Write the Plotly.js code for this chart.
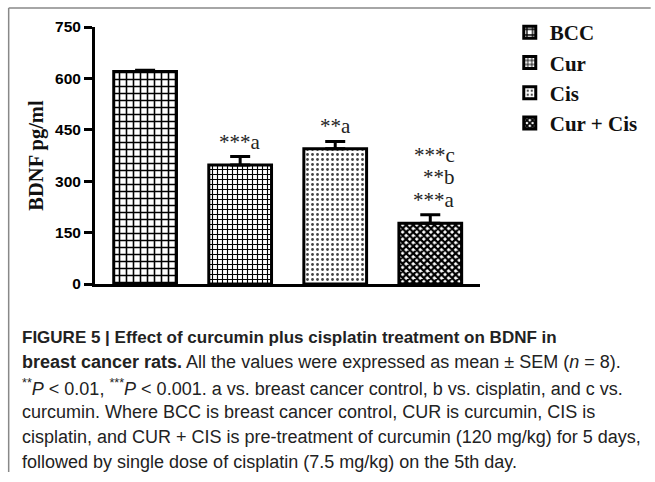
<!DOCTYPE html>
<html>
<head>
<meta charset="utf-8">
<script src="https://cdn.plot.ly/plotly-3.0.1.min.js"></script>
<style>
html,body{margin:0;padding:0;background:#fff;}
#chart{width:655px;height:482px;}
</style>
</head>
<body>
<div id="chart"></div>
<script>
// ---- data ----
var groups = ["BCC", "Cur", "Cis", "Cur + Cis"];
var means = [620, 347, 395, 177];
var sem = [4, 25, 21, 25];
var sigLabels = [[], ["***a"], ["**a"], ["***a", "**b", "***c"]];   // bottom line first
var yTicks = [0, 150, 300, 450, 600, 750];
var captionLines = [
  "<b>FIGURE 5 | Effect of curcumin plus cisplatin treatment on BDNF in</b>",
  "<b>breast cancer rats.</b> All the values were expressed as mean ± SEM (<i>n</i> = 8).",
  "<sup>**</sup><i>P</i> < 0.01, <sup>***</sup><i>P</i> < 0.001. a vs. breast cancer control, b vs. cisplatin, and c vs.",
  "curcumin. Where BCC is breast cancer control, CUR is curcumin, CIS is",
  "cisplatin, and CUR + CIS is pre-treatment of curcumin (120 mg/kg) for 5 days,",
  "followed by single dose of cisplatin (7.5 mg/kg) on the 5th day."
];

// ---- styles ----
var patterns = [
  {shape: "+", fgcolor: "#000", bgcolor: "#fff", size: 7, solidity: 0.4},
  {shape: "+", fgcolor: "#000", bgcolor: "#fff", size: 5, solidity: 0.4},
  {shape: ".", fgcolor: "#444", bgcolor: "#fff", size: 5, solidity: 0.25},
  {shape: "x", fgcolor: "#000", bgcolor: "#fff", size: 5, solidity: 0.7}
];

var traces = groups.map(function(g, i){
  return {
    type: "bar",
    name: g,
    x: [i],
    y: [means[i]],
    width: 0.66,
    marker: {color: "#fff", line: {color: "#000", width: 3}, pattern: patterns[i]},
    error_y: {type: "data", symmetric: false, array: [sem[i]], arrayminus: [0],
              color: "#000", thickness: 3, width: 10}
  };
});

var annotations = [];
groups.forEach(function(g, i){
  var lines = sigLabels[i];
  var multi = lines.length > 1;
  lines.forEach(function(t, k){
    annotations.push({
      x: i, y: means[i] + sem[i], xref: "x", yref: "y",
      text: t, showarrow: false,
      xanchor: multi ? "right" : "center", yanchor: "bottom",
      xshift: multi ? 27 : 0, yshift: 1 + k * 22.5, align: "right",
      font: {family: "Liberation Serif, Times New Roman, serif", size: 21, color: "#222"}
    });
  });
});

// caption lines (pixel -> paper conversion)
var L = 95, R = 172, T = 27, B = 198, W = 655, H = 482;
var pw = W - L - R, ph = H - T - B;
function px2x(p){ return (p - L) / pw; }
function py2y(p){ return (H - B - p) / ph; }
var captionY = [337, 362, 387, 412, 437, 462];
captionLines.forEach(function(t, i){
  annotations.push({
    x: px2x(19), y: py2y(captionY[i]), xref: "paper", yref: "paper",
    xanchor: "left", yanchor: "middle", showarrow: false, align: "left",
    text: t,
    font: {family: "Liberation Sans, Arial, sans-serif", size: i === 0 ? 17 : 18, color: "#222"}
  });
});

var layout = {
  width: W, height: H,
  margin: {l: L, r: R, t: T, b: B, pad: 0},
  paper_bgcolor: "#fff", plot_bgcolor: "#fff",
  showlegend: true,
  legend: {x: px2x(513), y: py2y(12), xanchor: "left", yanchor: "top",
           font: {family: "Liberation Serif, Times New Roman, serif", size: 21, color: "#111", weight: "bold"},
           bgcolor: "rgba(0,0,0,0)"},
  xaxis: {range: [-0.527, 3.523], showticklabels: false, ticks: "", showgrid: false,
          zeroline: false, showline: true, linecolor: "#000", linewidth: 3, fixedrange: true},
  yaxis: {range: [0, 750], tickvals: yTicks, ticktext: yTicks.map(String), ticks: "outside",
          ticklen: 8, tickwidth: 3, tickcolor: "#000", showgrid: false, zeroline: false,
          showline: true, linecolor: "#000", linewidth: 3,
          tickfont: {family: "Liberation Sans, Arial, sans-serif", size: 15.5, color: "#000", weight: "bold"},
          title: {text: "BDNF pg/ml", standoff: 6,
                  font: {family: "Liberation Serif, Times New Roman, serif", size: 20.5, color: "#111", weight: "bold"}}},
  annotations: annotations,
  shapes: [
    {type: "line", xref: "paper", yref: "paper", x0: px2x(8), x1: px2x(655), y0: py2y(8), y1: py2y(8),
     line: {color: "#888", width: 1.5}},
    {type: "line", xref: "paper", yref: "paper", x0: px2x(8), x1: px2x(8), y0: py2y(8), y1: py2y(472),
     line: {color: "#888", width: 1.5}}
  ]
};

Plotly.newPlot("chart", traces, layout, {displayModeBar: false, staticPlot: true});
</script>
</body>
</html>
